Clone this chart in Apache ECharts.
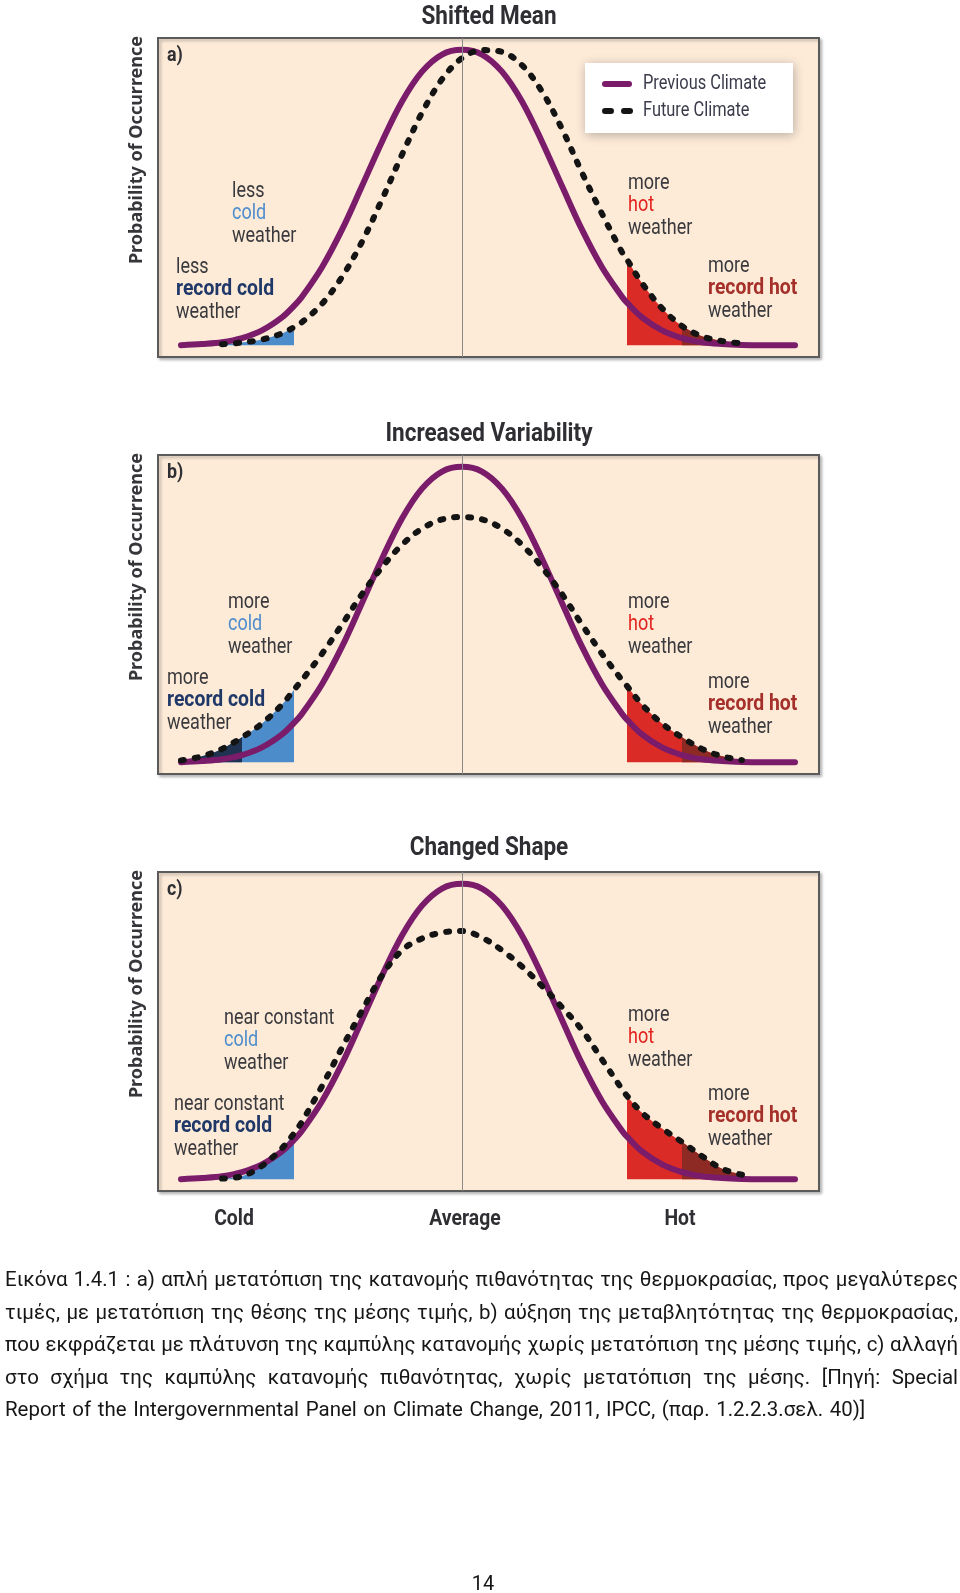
<!DOCTYPE html>
<html><head><meta charset="utf-8">
<script src="https://cdn.jsdelivr.net/npm/echarts@6/dist/echarts.min.js"></script>
<style>html,body{margin:0;padding:0;background:#fff}#c{width:960px;height:1593px}</style>
</head><body><div id="c"></div>
<script>
// ---------------- DATA ----------------
const xs = [-28.1,-26,-24,-22,-20,-18,-16.8,-16,-14,-12,-10,-8,-6,-4,-2,0,2,4,6,8,10,12,14,16,16.5,18,20,22,24,26,28,30,33.3];
const previousClimate = [0,0.4,1.0,2.4,5.0,9.4,13.3,16.4,26.4,39.1,53.9,68.9,82.5,92.6,98.4,100,98.4,92.6,82.5,68.9,53.9,39.1,26.4,16.4,14.4,9.4,5.0,2.4,1.0,0.4,0.1,0,0];
const futureShiftedMean = [null,null,0.3,0.9,1.9,4.0,6.1,7.8,14.0,23.1,35.0,49.3,64.5,78.7,90.0,97.2,99.9,99.3,94.8,85.9,73.2,58.4,44.5,31.5,29.0,21.0,12.5,6.5,3.0,1.4,0.6,null,null];
const futureIncreasedVariability = [0.6,2.0,4.5,8.4,13.1,19.5,24.5,27.8,36.7,46.6,56.9,66.0,73.6,79.1,82.2,83,82.2,79.1,73.6,66.0,56.9,46.6,36.7,27.8,25.8,19.5,13.1,8.4,4.5,2.0,0.7,null,null];
const futureChangedShape = [null,null,0.2,1.0,4.5,10.5,15.5,19.5,31.5,44.5,57.0,69.0,77.5,81.5,83.5,84.0,81.8,77.5,72.0,65.4,58.2,50.5,40.5,30.5,28.2,22.5,17.2,12.6,7.8,3.5,1.5,null,null];
const coldEdge = -16.8, recordColdEdge = -22, hotEdge = 16.5, recordHotEdge = 22;
const panelTitles = ['Shifted Mean','Increased Variability','Changed Shape'];
const panelTags = ['a)','b)','c)'];
const yAxisName = 'Probability of Occurrence';
const xAxisWords = ['Cold','Average','Hot'];
const seriesNames = ['Previous Climate','Future Climate'];
const annotations = [
  [ [['less','plain'],['cold','cold'],['weather','plain']],
    [['less','plain'],['record cold','recCold'],['weather','plain']],
    [['more','plain'],['hot','hot'],['weather','plain']],
    [['more','plain'],['record hot','recHot'],['weather','plain']] ],
  [ [['more','plain'],['cold','cold'],['weather','plain']],
    [['more','plain'],['record cold','recCold'],['weather','plain']],
    [['more','plain'],['hot','hot'],['weather','plain']],
    [['more','plain'],['record hot','recHot'],['weather','plain']] ],
  [ [['near constant','plain'],['cold','cold'],['weather','plain']],
    [['near constant','plain'],['record cold','recCold'],['weather','plain']],
    [['more','plain'],['hot','hot'],['weather','plain']],
    [['more','plain'],['record hot','recHot'],['weather','plain']] ]
];
const captionLines = [
  'Εικόνα 1.4.1 : a) απλή μετατόπιση της κατανομής πιθανότητας της θερμοκρασίας, προς μεγαλύτερες',
  'τιμές, με μετατόπιση της θέσης της μέσης τιμής, b) αύξηση της μεταβλητότητας της θερμοκρασίας,',
  'που εκφράζεται με πλάτυνση της καμπύλης κατανομής χωρίς μετατόπιση της μέσης τιμής, c) αλλαγή',
  'στο σχήμα της καμπύλης κατανομής πιθανότητας, χωρίς μετατόπιση της μέσης. [Πηγή: Special',
  'Report of the Intergovernmental Panel on Climate Change, 2011, IPCC, (παρ. 1.2.2.3.σελ. 40)]'
];
const pageNumber = '14';

// ---------------- LAYOUT / STYLE ----------------
const FF = "Roboto, 'Noto Sans', sans-serif";
const GRID_TOPS = [38, 455, 872], GRID_H = 319, GRID_LEFT = 158, GRID_W = 661;
const annoPos = [
  [[232,191],[176,267],[628,183],[708,266]],
  [[228,602],[167,678],[628,602],[708,682]],
  [[224,1018],[174,1104],[628,1015],[708,1094]]
];
const LINE_STEP = 22.5;
const annoStyles = {
  plain: {fill:'#3a3a3e', w:'normal', sx:0.82},
  cold: {fill:'#4f8dcc', w:'normal', sx:0.82},
  hot: {fill:'#e2231e', w:'normal', sx:0.82},
  recCold: {fill:'#1f3868', w:'bold', sx:0.88},
  recHot: {fill:'#a5302a', w:'bold', sx:0.88}
};
const futures = [futureShiftedMean, futureIncreasedVariability, futureChangedShape];
const COLORS = {prev:'#7b1c6b', fut:'#141414', blue:'#4d8ccb', navy:'#1f3350', red:'#db2b26', darkRed:'#8e2a24'};
const DOT = {width:6, type:[3,11], cap:'round'};

function pairs(ys, pred) {
  return xs.map((x, i) => [x, ys[i]]).filter(p => p[1] !== null && pred(p[0]));
}
function T(x, y, text, font, fill, align, sx, extra) {
  return Object.assign({type:'text', x:x, y:y, scaleX:sx || 1, z:10,
    style:{text:text, font:font, fill:fill, textAlign:align || 'left', textVerticalAlign:'middle'}}, extra || {});
}

const grids = [], xAxes = [], yAxes = [], series = [], graphics = [];
for (let k = 0; k < 3; k++) {
  grids.push({left: GRID_LEFT, top: GRID_TOPS[k], width: GRID_W, height: GRID_H, show: true,
    backgroundColor: '#fdebd8', borderColor: '#5b5b5b', borderWidth: 2,
    shadowColor: 'rgba(0,0,0,0.25)', shadowBlur: 3, shadowOffsetX: 2, shadowOffsetY: 2});
  xAxes.push({type:'value', gridIndex:k, min:-30.4, max:35.7, show:false});
  yAxes.push({type:'value', gridIndex:k, min:-4, max:104, show:false});
  const fut = futures[k];
  const fillBase = {type:'line', xAxisIndex:k, yAxisIndex:k, smooth:0.35, symbol:'none', silent:true,
    lineStyle:{width:0, opacity:0}, z:1};
  series.push(Object.assign({}, fillBase, {
    data: pairs(fut, x => x <= coldEdge), areaStyle:{color:COLORS.blue, opacity:1},
    markLine:{silent:true, symbol:['none','none'], label:{show:false}, animation:false,
      lineStyle:{color:'#8a8a8a', width:1, type:'solid'}, data:[{xAxis:0}]}
  }));
  if (k === 1) {
    series.push(Object.assign({}, fillBase, {data: pairs(fut, x => x <= recordColdEdge), areaStyle:{color:COLORS.navy, opacity:1}}));
  }
  series.push(Object.assign({}, fillBase, {data: pairs(fut, x => x >= hotEdge), areaStyle:{color:COLORS.red, opacity:1}}));
  series.push(Object.assign({}, fillBase, {data: pairs(fut, x => x >= recordHotEdge), areaStyle:{color:COLORS.darkRed, opacity:1}}));
  series.push({name: seriesNames[0], type:'line', xAxisIndex:k, yAxisIndex:k, smooth:0.35, symbol:'none', z:3,
    data: pairs(previousClimate, () => true), color: COLORS.prev,
    lineStyle:{color:COLORS.prev, width:6, cap:'round'}});
  series.push({name: seriesNames[1], type:'line', xAxisIndex:k, yAxisIndex:k, smooth:0.35, symbol:'none', z:4,
    data: pairs(fut, () => true), color: COLORS.fut,
    lineStyle:Object.assign({color:COLORS.fut}, DOT)});

  graphics.push(T(489, [18,435,849][k], panelTitles[k], 'bold 25px ' + FF, '#2e2e33', 'center', 0.9));
  graphics.push(T(167, GRID_TOPS[k] + 18, panelTags[k], 'bold 21px ' + FF, '#2e2e33', 'left', 0.85));
  graphics.push(T(137, GRID_TOPS[k] + 112, yAxisName, "bold 18px 'Noto Sans','Open Sans',sans-serif", '#35353a', 'center', 1,
    {rotation: Math.PI / 2}));
  annotations[k].forEach((group, g) => {
    group.forEach((ln, i) => {
      const st = annoStyles[ln[1]];
      graphics.push(T(annoPos[k][g][0], annoPos[k][g][1] + i * LINE_STEP, ln[0], st.w + ' 22px ' + FF, st.fill, 'left', st.sx));
    });
  });
}
[234, 465, 680].forEach((x, i) => {
  graphics.push(T(x, 1219, xAxisWords[i], 'bold 22px ' + FF, '#2e2e33', 'center', 0.88));
});

// legend box (panel a)
graphics.push({type:'rect', shape:{x:585, y:63, width:208, height:70}, z:9,
  style:{fill:'#ffffff', shadowBlur:10, shadowColor:'rgba(0,0,0,0.28)', shadowOffsetX:1, shadowOffsetY:2}});
graphics.push({type:'line', shape:{x1:605, y1:84, x2:629, y2:84}, z:10,
  style:{stroke:COLORS.prev, lineWidth:6, lineCap:'round'}});
graphics.push({type:'line', shape:{x1:605, y1:111, x2:630, y2:111}, z:10,
  style:{stroke:COLORS.fut, lineWidth:6, lineCap:'round', lineDash:[6,13]}});
graphics.push(T(643, 84, seriesNames[0], '20px ' + FF, '#3a3b4a', 'left', 0.82));
graphics.push(T(643, 111, seriesNames[1], '20px ' + FF, '#3a3b4a', 'left', 0.82));

// caption, justified
const CAP_PX = 21;
const CAP_FONT = CAP_PX + "px Roboto";
const mctx = document.createElement('canvas').getContext('2d');
mctx.font = CAP_FONT;
const CAP_LEFT = 5, CAP_RIGHT = 958, CAP_Y0 = 1281, CAP_STEP = 32.5, LAST_LINE_W = 842;
const lastWidth = mctx.measureText(captionLines[captionLines.length - 1]).width;
const capScale = LAST_LINE_W / lastWidth;
captionLines.forEach((line, li) => {
  const words = line.split(/\s+/);
  const widths = words.map(w => mctx.measureText(w).width * capScale);
  const total = widths.reduce((a, b) => a + b, 0);
  const justify = li < captionLines.length - 1;
  const gap = justify ? (CAP_RIGHT - CAP_LEFT - total) / (words.length - 1) : mctx.measureText(' ').width * capScale * 1.3;
  let x = CAP_LEFT;
  words.forEach((w, wi) => {
    graphics.push(T(x, CAP_Y0 + li * CAP_STEP, w, CAP_FONT, '#161616', 'left', capScale));
    x += widths[wi] + gap;
  });
});
graphics.push(T(483, 1585, pageNumber, '20px Roboto', '#161616', 'center', 1));

const chart = echarts.init(document.getElementById('c'), null, {renderer:'canvas', width:960, height:1593});
chart.setOption({
  animation:false,
  backgroundColor:'#ffffff',
  grid: grids, xAxis: xAxes, yAxis: yAxes, series: series,
  graphic: graphics
});
</script></body></html>
